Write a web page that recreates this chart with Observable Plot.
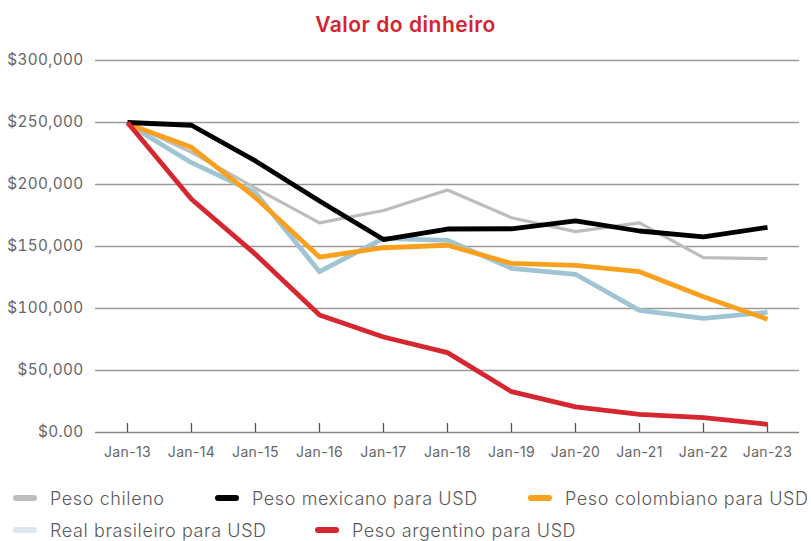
<!DOCTYPE html>
<html>
<head>
<meta charset="utf-8">
<script src="https://cdn.jsdelivr.net/npm/d3@7"></script>
<script src="https://cdn.jsdelivr.net/npm/@observablehq/plot@0.6"></script>
<style>
  html, body { margin: 0; padding: 0; background: #fff; }
  body { width: 811px; height: 541px; position: relative; overflow: hidden; font-family: Inter, "Noto Sans", sans-serif; }
  #title { position: absolute; top: 12px; left: 0; width: 811px; text-align: center; color: #d5232f; font-size: 21px; letter-spacing: 0.5px; font-weight: 600; }
  #chart { position: absolute; top: 42px; left: 0; }
  #legend { position: absolute; top: 0; left: 0; width: 811px; height: 541px; pointer-events: none; }
  .item { position: absolute; display: flex; align-items: center; font-size: 18px; letter-spacing: 0.6px; color: #5a5a5a; font-weight: 300; white-space: nowrap; }
  .sw { width: 24px; height: 6px; border-radius: 3px; margin-right: 13px; }
</style>
</head>
<body>
<div id="title">Valor do dinheiro</div>
<div id="chart"></div>
<div id="legend"></div>
<script>
const categories = ["Jan-13","Jan-14","Jan-15","Jan-16","Jan-17","Jan-18","Jan-19","Jan-20","Jan-21","Jan-22","Jan-23"];
const pesoChileno    = [250000, 226000, 197000, 169000, 179000, 195600, 173200, 162000, 169000, 141000, 140200];
const pesoMexicano   = [250000, 247800, 219000, 186700, 155600, 164100, 164300, 170600, 162500, 157700, 165500];
const pesoColombiano = [249000, 230000, 189400, 141500, 149000, 151000, 136400, 134800, 129700, 109500, 91300];
const realBrasileiro = [249000, 217600, 193400, 129700, 156600, 155000, 132400, 127600, 98500, 92100, 96900];
const pesoArgentino  = [250000, 188100, 143700, 94800, 77000, 64400, 32900, 20600, 14700, 12000, 6600];
const yTicks = [0, 50000, 100000, 150000, 200000, 250000, 300000];

const seriesNames = ["Peso chileno", "Peso mexicano para USD", "Peso colombiano para USD", "Real brasileiro para USD", "Peso argentino para USD"];
const seriesValues = [pesoChileno, pesoMexicano, pesoColombiano, realBrasileiro, pesoArgentino];
const lineColors = ["#bdbdbd", "#000000", "#f9a11e", "#9fc5d4", "#d6262f"];
const swatchColors = ["#bdbdbd", "#000000", "#f9a11e", "#dbe6ee", "#d6262f"];
const lineWidths = [3.2, 4.8, 4.8, 4.8, 4.8];
const drawOrder = [0, 3, 2, 1, 4];

const rows = [];
seriesNames.forEach((s, i) => categories.forEach((c, j) => rows.push({series: s, cat: c, value: seriesValues[i][j]})));

const fmt = v => v === 0 ? "$0.00" : "$" + d3.format(",")(v);

const lineMarks = drawOrder.map(i =>
  Plot.line(rows.filter(r => r.series === seriesNames[i]), {
    x: "cat", y: "value", stroke: lineColors[i], strokeWidth: lineWidths[i],
    strokeLinejoin: "round", strokeLinecap: "butt"
  })
);

const chart = Plot.plot({
  width: 811,
  height: 425,
  marginTop: 18,
  marginBottom: 35,
  marginLeft: 95,
  marginRight: 12,
  style: {fontFamily: "Inter, 'Noto Sans', sans-serif", background: "#fff", overflow: "visible", letterSpacing: "0.35px"},
  x: {type: "point", domain: categories, padding: 0.5, label: null},
  y: {domain: [0, 300000], ticks: yTicks, label: null},
  marks: [
    Plot.gridY(yTicks.filter(t => t > 0), {stroke: "#9a9a9a", strokeOpacity: 1, strokeWidth: 1.3}),
    Plot.axisY({ticks: yTicks, tickSize: 0, tickPadding: 12, tickFormat: fmt, fontSize: 15.3, fill: "#666", label: null}),
    Plot.ruleY([0], {stroke: "#888", strokeWidth: 1.6}),
    Plot.axisX({tickSize: -9, tickPadding: 24, stroke: "#555", strokeWidth: 1.3, fontSize: 14, fill: "#666", label: null}),
    ...lineMarks
  ]
});
document.getElementById("chart").appendChild(chart);

const legendPos = [[13, 498], [215, 498], [528, 498], [13, 530], [315, 530]];
const legend = document.getElementById("legend");
seriesNames.forEach((s, i) => {
  const el = document.createElement("div");
  el.className = "item";
  el.style.left = legendPos[i][0] + "px";
  el.style.top = (legendPos[i][1] - 12) + "px";
  el.style.height = "24px";
  const sw = document.createElement("span");
  sw.className = "sw";
  sw.style.background = swatchColors[i];
  const tx = document.createElement("span");
  tx.textContent = s;
  el.appendChild(sw); el.appendChild(tx);
  legend.appendChild(el);
});
</script>
</body>
</html>
